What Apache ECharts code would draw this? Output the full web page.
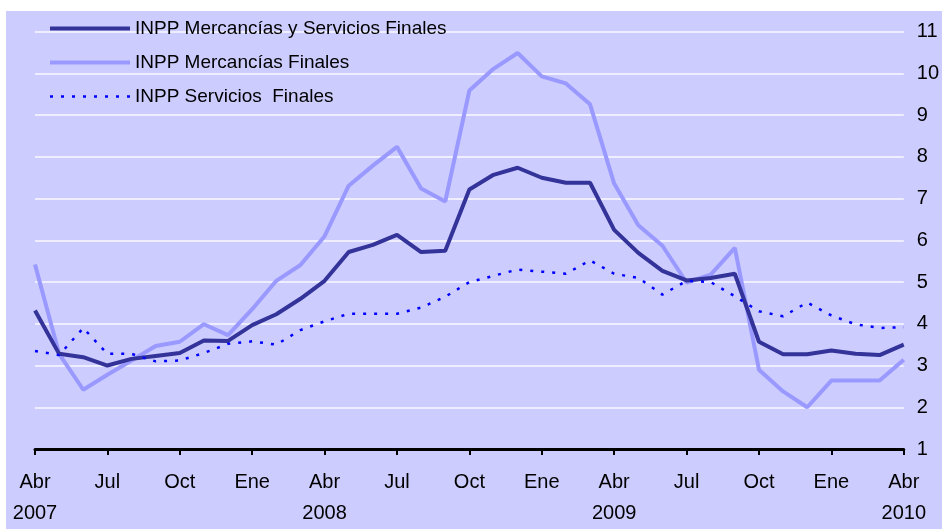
<!DOCTYPE html>
<html>
<head>
<meta charset="utf-8">
<script src="https://cdn.jsdelivr.net/npm/echarts@6/dist/echarts.min.js"></script>
<style>
  html, body { margin: 0; padding: 0; background: #ffffff; }
  #chart { position: absolute; left: 6px; top: 11px; width: 936px; height: 518px; }
</style>
</head>
<body>
<div id="chart"></div>
<script>
// Months: Abr 2007 .. Abr 2010
const categories = [
  'Abr\n2007','May','Jun','Jul','Ago','Sep','Oct','Nov','Dic',
  'Ene','Feb','Mar','Abr\n2008','May','Jun','Jul','Ago','Sep','Oct','Nov','Dic',
  'Ene','Feb','Mar','Abr\n2009','May','Jun','Jul','Ago','Sep','Oct','Nov','Dic',
  'Ene','Feb','Mar','Abr\n2010'
];
const seriesNames = [
  'INPP Mercancías y Servicios Finales',
  'INPP Mercancías Finales',
  'INPP Servicios  Finales'
];
const totalValues = [
  4.32, 3.28, 3.20, 3.00, 3.16, 3.23, 3.30, 3.60, 3.59, 3.97, 4.23, 4.60,
  5.03, 5.72, 5.89, 6.13, 5.72, 5.75, 7.22, 7.57, 7.74, 7.50, 7.38, 7.38,
  6.25, 5.70, 5.27, 5.04, 5.10, 5.20, 3.57, 3.27, 3.27, 3.36, 3.28, 3.25, 3.50
];
const goodsValues = [
  5.42, 3.28, 2.42, 2.78, 3.12, 3.47, 3.57, 3.99, 3.73, 4.35, 5.03, 5.41,
  6.10, 7.31, 7.79, 8.24, 7.24, 6.93, 9.59, 10.11, 10.49, 9.93, 9.76, 9.26,
  7.36, 6.36, 5.87, 4.99, 5.18, 5.82, 2.90, 2.38, 2.00, 2.64, 2.64, 2.64, 3.14
];
const servicesValues = [
  3.35, 3.25, 3.90, 3.28, 3.28, 3.10, 3.12, 3.30, 3.52, 3.58, 3.50, 3.85,
  4.06, 4.24, 4.24, 4.24, 4.39, 4.65, 5.00, 5.15, 5.30, 5.25, 5.20, 5.52,
  5.20, 5.10, 4.70, 5.03, 5.00, 4.66, 4.30, 4.18, 4.51, 4.20, 3.99, 3.90, 3.92
];
const yMin = 1, yMax = 11, yStep = 1;

const FONT = 'Liberation Sans, Arial, sans-serif';
const chart = echarts.init(document.getElementById('chart'), null, { renderer: 'canvas' });
chart.setOption({
  backgroundColor: '#CCCCFF',
  animation: false,
  grid: { left: 29, right: 38, top: 20.7, bottom: 76, containLabel: false },
  legend: {
    orient: 'vertical',
    left: 42,
    top: 8,
    padding: 0,
    itemWidth: 80,
    itemHeight: 20,
    itemGap: 15,
    itemStyle: { opacity: 0 },
    lineStyle: { width: 'inherit' },
    textStyle: { fontFamily: FONT, fontSize: 19, color: '#000' },
    data: seriesNames
  },
  xAxis: {
    type: 'category',
    data: categories,
    boundaryGap: false,
    axisLine: { show: true, lineStyle: { color: '#000', width: 3 } },
    axisTick: { show: true, interval: 2, length: 6, lineStyle: { color: '#000', width: 2 } },
    axisLabel: {
      interval: 2,
      margin: 18,
      fontFamily: FONT,
      fontSize: 20,
      lineHeight: 31,
      color: '#000'
    },
    splitLine: { show: false }
  },
  yAxis: {
    type: 'value',
    position: 'right',
    min: yMin, max: yMax, interval: yStep,
    axisLine: { show: false },
    axisTick: { show: false },
    axisLabel: { margin: 13, fontFamily: FONT, fontSize: 20, color: '#000' },
    splitLine: { show: true, lineStyle: { color: '#EEEEFF', width: 2 } }
  },
  series: [
    {
      name: seriesNames[0], type: 'line', data: totalValues,
      symbol: 'none', z: 4,
      lineStyle: { color: '#333399', width: 4 },
      itemStyle: { color: '#333399' }
    },
    {
      name: seriesNames[1], type: 'line', data: goodsValues,
      symbol: 'none', z: 3,
      lineStyle: { color: '#9999FF', width: 4 },
      itemStyle: { color: '#9999FF' }
    },
    {
      name: seriesNames[2], type: 'line', data: servicesValues,
      symbol: 'none', z: 5,
      lineStyle: { color: '#0000FF', width: 2.5, type: [3, 8] },
      itemStyle: { color: '#0000FF' }
    }
  ]
});
</script>
</body>
</html>
